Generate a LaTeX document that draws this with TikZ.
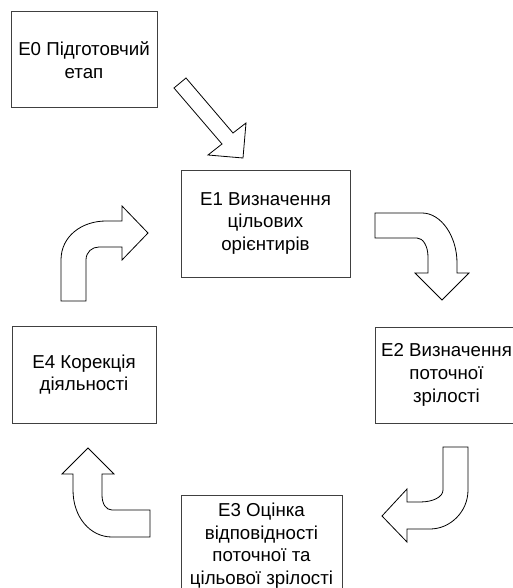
\documentclass[tikz,border=0pt]{standalone}
\usepackage{fontspec}
\setmainfont{Liberation Sans}
\begin{document}
\begin{tikzpicture}[x=1pt,y=-1pt,
  box/.style={draw=black!75, line width=1pt, rectangle, align=center, inner sep=0pt,
    font=\fontsize{18.7}{22.6}\selectfont},
  blockarrow/.style={draw=black, fill=white, line width=0.8pt, line join=miter}]
\useasboundingbox (0,0) rectangle (513,588);
\clip (0,0) rectangle (513,588);
% boxes
\node[box, minimum width=146pt, minimum height=96pt] (e0) at (84,60) {E0 Підготовчий\\етап};
\node[box, minimum width=169pt, minimum height=107pt] (e1) at (265.5,223.5) {E1 Визначення\\цільових\\орієнтирів};
\node[box, minimum width=143pt, minimum height=96pt] (e2) at (446.5,375) {E2 Визначення\\поточної\\зрілості};
\node[box, minimum width=161pt, minimum height=101pt] (e3) at (261.5,545.5) {E3 Оцінка\\відповідності\\поточної та\\цільової зрілості};
\node[box, minimum width=144pt, minimum height=97pt] (e4) at (84,374.5) {E4 Корекція\\діяльності};
% arrow E0 -> E1
\draw[blockarrow] (186,78) -- (233,133) -- (246,123) -- (243,158) -- (208,155) -- (222,144) -- (174,88) -- cycle;
% arrow E1 -> E2
\draw[blockarrow] (375,213) -- (422,213) .. controls (441,213) and (457,236) .. (457,263)
  -- (457,273) -- (469,273) -- (442,300) -- (415,273) -- (428,273) -- (428,257)
  .. controls (428,246) and (423,238) .. (417,238) -- (375,238) -- cycle;
% arrow E2 -> E3
\draw[blockarrow] (443,447) -- (468,447) -- (468,490) .. controls (468,512) and (450,529) .. (430,529)
  -- (407,529) -- (407,542) -- (382,516) -- (407,489) -- (407,502) -- (420,502)
  .. controls (433,502) and (443,497) .. (443,490) -- cycle;
% arrow E3 -> E4
\draw[blockarrow] (150,510) -- (112,510) .. controls (106,510) and (102,504) .. (102,495)
  -- (102,474) -- (114,474) -- (88,448) -- (62,474) -- (73,474) -- (73,490)
  .. controls (73,517) and (90,537) .. (112,537) -- (150,537) -- cycle;
% arrow E4 -> E1
\draw[blockarrow] (61,301) -- (61,260) .. controls (61,236) and (82,221) .. (106,221)
  -- (122,221) -- (122,206) -- (148,233) -- (122,260) -- (122,247) -- (99,247)
  .. controls (92,247) and (86,252) .. (86,260) -- (86,301) -- cycle;
\end{tikzpicture}
\end{document}
